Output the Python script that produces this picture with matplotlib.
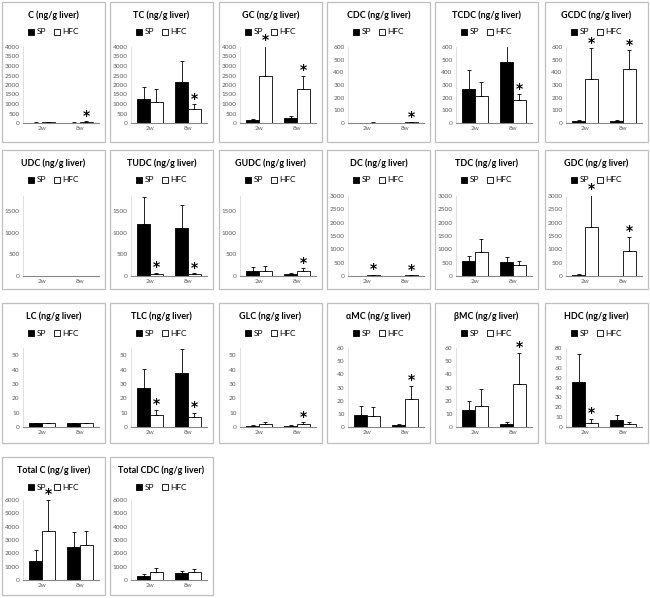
import matplotlib
matplotlib.use("Agg")
import matplotlib.pyplot as plt
from matplotlib.patches import Patch, Rectangle
import numpy as np

plt.rcParams['font.family'] = ['Lato', 'DejaVu Sans']

# bile acid panels (mean, upper error)
titles = ["C", "TC", "GC", "CDC", "TCDC", "GCDC",
          "UDC", "TUDC", "GUDC", "DC", "TDC", "GDC",
          "LC", "TLC", "GLC", "αMC", "βMC", "HDC",
          "Total C", "Total CDC"]
groups = ["2w", "8w"]

sp_vals = [[20, 20], [1270, 2150], [140, 265], [2, 2], [270, 481], [15, 18],
           [8, 8], [1200, 1100], [115, 40], [10, 10], [550, 510], [40, 5],
           [2.5, 2.5], [27, 37.7], [1.0, 1.0], [9.3, 1.3], [12.6, 2.0], [45.2, 6.7],
           [1443, 2455], [300, 500]]
sp_errs = [[10, 10], [630, 1110], [90, 85], [1, 1], [148, 135], [10, 8],
           [2, 2], [630, 540], [90, 30], [5, 5], [215, 190], [20, 3],
           [0.3, 0.3], [13.7, 16.9], [0.4, 0.4], [6.3, 0.6], [7.5, 1.5], [29.1, 5.7],
           [800, 1150], [150, 150]]
hfc_vals = [[40, 60], [1090, 740], [2470, 1800], [3, 5], [214, 182], [344, 428],
            [8, 8], [50, 45], [120, 120], [40, 20], [890, 400], [1850, 930],
            [2.5, 2.5], [8.1, 6.7], [2.2, 2.4], [8.0, 21.4], [16.1, 32.7], [4.0, 3.0],
            [3670, 2650], [600, 600]]
hfc_errs = [[15, 20], [725, 260], [1630, 700], [1, 2], [108, 48], [248, 148],
            [2, 2], [20, 15], [110, 60], [15, 8], [510, 175], [1200, 540],
            [0.3, 0.3], [3.8, 3.3], [1.5, 0.8], [7.0, 10.0], [12.5, 23.8], [4.4, 2.0],
            [2330, 1000], [300, 200]]
y_max = [4000, 4000, 4000, 600, 600, 600,
         1850, 1850, 1850, 3000, 3000, 3000,
         55, 55, 55, 60, 60, 80,
         6000, 6000]
y_step = [500, 500, 500, 100, 100, 100,
          500, 500, 500, 500, 500, 500,
          10, 10, 10, 10, 10, 10,
          1000, 1000]
# significance stars above the HFC bar of these groups
stars = [[1], [1], [0, 1], [1], [1], [0, 1],
         [], [0, 1], [1], [0, 1], [], [0, 1],
         [], [0, 1], [1], [1], [1], [0],
         [0], []]

W, H = 650, 598
fig = plt.figure(figsize=(W / 100, H / 100), dpi=100)

col_left = [2, 110, 219, 327, 435, 545]
panel_w = 103
row_top = [2, 150, 303, 457]
row_bot = [142, 289, 443, 595]
ax_top = [47, 196, 348, 500]
ax_bot = [123, 276, 427, 580]

grey_txt = '#595959'

for i, name in enumerate(titles):
    r, c = divmod(i, 6)
    left = col_left[c]
    top, bot = row_top[r], row_bot[r]

    fig.add_artist(Rectangle((left / W, 1 - bot / H), panel_w / W, (bot - top) / H,
                             transform=fig.transFigure, fill=False,
                             edgecolor='#bfbfbf', lw=0.9))
    cx = left + panel_w / 2
    fig.text(cx / W, 1 - (top + 13) / H, name + " (ng/g liver)", ha='center',
             va='center', fontsize=6.4, fontweight='bold', color='black')

    a_l, a_r = left + 21, left + 97
    ax = fig.add_axes([a_l / W, 1 - ax_bot[r] / H, (a_r - a_l) / W,
                       (ax_bot[r] - ax_top[r]) / H])
    x = np.arange(len(groups))
    bw = 0.34
    ax.bar(x - bw / 2, sp_vals[i], bw, color='black', edgecolor='black', lw=0.6,
           yerr=[[0, 0], sp_errs[i]], error_kw=dict(elinewidth=0.6, capsize=1.5,
                                                    capthick=0.6, ecolor='black'))
    ax.bar(x + bw / 2, hfc_vals[i], bw, color='white', edgecolor='black', lw=0.6,
           yerr=[[0, 0], hfc_errs[i]], error_kw=dict(elinewidth=0.6, capsize=1.5,
                                                     capthick=0.6, ecolor='black'))
    ym = y_max[i]
    for g in stars[i]:
        yy = hfc_vals[i][g] + hfc_errs[i][g] + 0.07 * ym
        ax.text(g + bw / 2, yy, "*", ha='center', va='center', fontsize=10,
                fontweight='bold', clip_on=False, family='DejaVu Sans')

    ax.set_xlim(-0.5, 1.5)
    ax.set_ylim(0, ym)
    ticks = np.arange(0, ym + 1e-9, y_step[i])
    ax.set_yticks(ticks)
    ax.set_yticklabels([f"{t:g}" for t in ticks])
    ax.set_xticks(x)
    ax.set_xticklabels(groups)
    ax.tick_params(axis='both', length=0, labelsize=4.6, colors=grey_txt, pad=2.5)
    for s in ['top', 'right']:
        ax.spines[s].set_visible(False)
    ax.spines['left'].set_color('#d9d9d9')
    ax.spines['left'].set_linewidth(0.6)
    ax.spines['bottom'].set_color('#868686')
    ax.spines['bottom'].set_linewidth(0.8)
    ax.patch.set_alpha(0)

    handles = [Patch(facecolor='black', edgecolor='black', lw=0.6),
               Patch(facecolor='white', edgecolor='black', lw=0.6)]
    ax.legend(handles, ["SP", "HFC"], loc='center', ncol=2, frameon=False,
              bbox_to_anchor=(cx / W, 1 - (top + 30) / H),
              bbox_transform=fig.transFigure, fontsize=6, handlelength=0.75,
              handleheight=0.75, handletextpad=0.3, columnspacing=0.9,
              borderpad=0, borderaxespad=0)

fig.savefig("out.png", dpi=100)
